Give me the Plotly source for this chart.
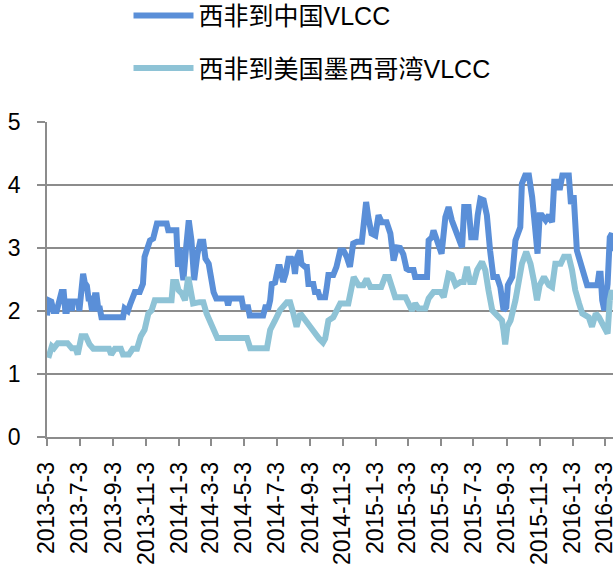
import pandas as pd
import plotly.graph_objects as go

CN_COLOR = '#5A8FD8'
US_COLOR = '#8EC3D6'
GRID = '#8C8C8C'

START = '2013-05-03'

# days after 2013-5-3, value
cn_days = [0, 3, 8, 12, 18, 24, 27, 31, 34, 37, 40, 44, 46, 48, 58, 60, 62, 64, 67, 70,
           74, 77, 80, 83, 86, 89, 92, 95, 98, 101, 141, 144, 150, 154, 157, 163, 172, 178, 181, 186,
           191, 197, 201, 204, 222, 225, 240, 243, 246, 249, 253, 258, 263, 268, 273, 279, 284, 290, 294, 300,
           305, 309, 314, 333, 336, 339, 361, 364, 373, 376, 401, 405, 411, 414, 417, 423, 429, 432, 435, 438,
           443, 448, 454, 457, 460, 463, 469, 472, 479, 482, 485, 494, 497, 503, 506, 516, 519, 522, 531, 537,
           544, 550, 556, 562, 568, 575, 584, 587, 592, 596, 602, 609, 615, 621, 630, 637, 643, 649, 655, 661,
           667, 671, 680, 683, 705, 708, 714, 717, 723, 732, 739, 745, 751, 757, 764, 770, 774, 782, 787, 795,
           799, 804, 810, 816, 822, 828, 835, 841, 847, 852, 855, 863, 869, 875, 878, 881, 887, 894, 900, 906,
           910, 914, 918, 925, 931, 937, 941, 948, 951, 956, 968, 972, 977, 983, 990, 996, 1002, 1021, 1024, 1027,
           1030, 1034, 1040, 1044, 1048, 1050]
cn_vals = [1.93, 2.17, 2.15, 2.0, 2.0, 2.2, 2.3, 2.3, 2.0, 2.0, 2.15, 2.15, 2.0, 2.15, 2.15, 2.0, 2.2, 2.4, 2.59, 2.45,
           2.4, 2.2, 2.2, 2.04, 2.04, 2.25, 2.25, 2.04, 2.04, 1.9, 1.9, 2.04, 2.0, 2.1, 2.17, 2.3, 2.3, 2.43, 2.86, 3.0,
           3.12, 3.15, 3.3, 3.39, 3.39, 3.28, 3.28, 2.7, 3.0, 2.75, 2.49, 3.0, 3.44, 3.12, 2.49, 2.9, 3.1, 3.1, 2.83, 2.75,
           2.45, 2.3, 2.2, 2.2, 2.09, 2.2, 2.2, 2.06, 2.06, 1.93, 1.93, 2.06, 2.06, 2.17, 2.43, 2.45, 2.7, 2.7, 2.59, 2.46,
           2.6, 2.83, 2.83, 2.8, 2.59, 2.83, 2.96, 2.75, 2.7, 2.7, 2.43, 2.43, 2.3, 2.3, 2.22, 2.22, 2.38, 2.57, 2.57, 2.7,
           2.96, 2.96, 2.86, 2.7, 3.07, 3.1, 3.1, 3.33, 3.73, 3.49, 3.23, 3.2, 3.52, 3.41, 3.41, 3.23, 2.8, 3.01, 3.0, 2.9,
           2.67, 2.65, 2.65, 2.54, 2.54, 3.12, 3.17, 3.28, 3.15, 2.91, 3.49, 3.65, 3.44, 3.28, 3.17, 3.01, 3.65, 3.65, 3.17, 3.17,
           3.52, 3.78, 3.76, 3.52, 2.96, 2.54, 2.54, 2.38, 2.01, 2.06, 2.41, 2.54, 3.12, 3.23, 3.33, 4.02, 4.15, 4.15, 3.81, 3.28,
           2.91, 3.52, 3.52, 3.44, 3.52, 3.41, 4.05, 4.05, 3.92, 4.15, 4.15, 3.7, 3.84, 2.96, 2.75, 2.65, 2.41, 2.41, 2.59, 2.59,
           2.17, 2.01, 2.43, 3.17, 3.23, 2.95]

us_days = [0, 4, 9, 13, 20, 38, 46, 53, 57, 61, 64, 72, 79, 86, 115, 119, 126, 137, 141, 152,
           159, 167, 170, 174, 181, 185, 188, 194, 200, 231, 234, 240, 244, 250, 256, 262, 268, 271, 283, 290,
           296, 305, 311, 316, 371, 377, 408, 411, 414, 423, 432, 445, 451, 457, 463, 470, 479, 488, 497, 505,
           512, 516, 522, 531, 544, 559, 569, 578, 587, 593, 600, 620, 627, 634, 640, 646, 665, 671, 677, 683,
           689, 702, 708, 717, 730, 736, 745, 751, 758, 767, 773, 779, 785, 792, 798, 807, 813, 819, 826, 835,
           844, 847, 850, 854, 860, 869, 875, 881, 889, 897, 903, 909, 914, 922, 931, 937, 943, 953, 959, 968,
           974, 980, 987, 993, 999, 1005, 1011, 1018, 1024, 1030, 1036, 1040, 1044, 1048, 1050]
us_vals = [1.31, 1.3, 1.44, 1.41, 1.49, 1.49, 1.41, 1.41, 1.31, 1.54, 1.6, 1.6, 1.47, 1.4, 1.4, 1.31, 1.4, 1.4, 1.31, 1.31,
           1.4, 1.4, 1.49, 1.6, 1.7, 1.85, 1.96, 2.01, 2.17, 2.17, 2.46, 2.46, 2.33, 2.28, 2.17, 2.54, 2.28, 2.12, 2.14, 2.14,
           1.96, 1.8, 1.7, 1.57, 1.57, 1.41, 1.41, 1.54, 1.7, 1.85, 2.01, 2.14, 2.14, 1.96, 1.75, 1.96, 1.85, 1.75, 1.67, 1.56,
           1.5, 1.56, 1.85, 1.9, 2.12, 2.12, 2.54, 2.41, 2.41, 2.51, 2.38, 2.38, 2.54, 2.54, 2.38, 2.22, 2.22, 2.09, 2.01, 2.12,
           2.04, 2.04, 2.2, 2.3, 2.3, 2.22, 2.59, 2.57, 2.41, 2.46, 2.46, 2.7, 2.46, 2.46, 2.65, 2.78, 2.65, 2.33, 2.01, 1.93,
           1.85, 1.69, 1.47, 1.75, 1.85, 2.17, 2.49, 2.75, 2.94, 2.75, 2.49, 2.17, 2.41, 2.54, 2.41, 2.38, 2.75, 2.75, 2.86, 2.86,
           2.65, 2.33, 2.12, 1.96, 1.93, 1.9, 1.75, 1.96, 1.9, 1.8, 1.67, 1.64, 2.17, 2.33, 2.17]

tick_vals = ['2013-05-03', '2013-07-03', '2013-09-03', '2013-11-03', '2014-01-03', '2014-03-03',
             '2014-05-03', '2014-07-03', '2014-09-03', '2014-11-03', '2015-01-03', '2015-03-03',
             '2015-05-03', '2015-07-03', '2015-09-03', '2015-11-03', '2016-01-03', '2016-03-03']
tick_text = ['2013-5-3', '2013-7-3', '2013-9-3', '2013-11-3', '2014-1-3', '2014-3-3',
             '2014-5-3', '2014-7-3', '2014-9-3', '2014-11-3', '2015-1-3', '2015-3-3',
             '2015-5-3', '2015-7-3', '2015-9-3', '2015-11-3', '2016-1-3', '2016-3-3']

start = pd.Timestamp(START)
cn_x = start + pd.to_timedelta(cn_days, unit='D')
us_x = start + pd.to_timedelta(us_days, unit='D')

FONT = 'Liberation Sans, Arial, Noto Sans CJK SC, sans-serif'

fig = go.Figure()
fig.add_trace(go.Scatter(x=cn_x, y=cn_vals, name='西非到中国VLCC', mode='lines',
                         legendgroup='a', line=dict(color=CN_COLOR, width=6)))
fig.add_trace(go.Scatter(x=us_x, y=us_vals, name='西非到美国墨西哥湾VLCC', mode='lines',
                         legendgroup='b', line=dict(color=US_COLOR, width=6)))

fig.update_layout(
    width=615, height=568,
    margin=dict(l=47, r=2, t=122, b=131, autoexpand=False),
    paper_bgcolor='white', plot_bgcolor='white',
    font=dict(family=FONT, size=22, color='black'),
    showlegend=True,
    legend=dict(x=0.144, xanchor='left', y=1.41, yanchor='top',
                tracegroupgap=17, itemwidth=60, bgcolor='rgba(0,0,0,0)',
                font=dict(size=25)),
)
fig.update_xaxes(
    type='date', range=['2013-05-03', '2016-03-18'], automargin=False,
    tickmode='array', tickvals=tick_vals, ticktext=tick_text, tickangle=-90,
    ticks='outside', ticklen=7, tickcolor=GRID, tickwidth=1.5,
    showline=True, linecolor=GRID, linewidth=1.5,
    showgrid=False, tickfont=dict(size=23), ticklabelstandoff=7,
    ticklabeloverflow='allow',
)
fig.update_yaxes(
    range=[0, 5], dtick=1, tick0=0, automargin=False,
    ticks='outside', ticklen=8, tickcolor=GRID, tickwidth=1.5,
    showline=True, linecolor=GRID, linewidth=1.5,
    showgrid=True, gridcolor=GRID, gridwidth=1.5, zeroline=False,
    tickfont=dict(size=23), ticklabelstandoff=12,
)

fig.write_html('out.html', config={'displayModeBar': False},
               post_script="document.body.style.margin='0';")
